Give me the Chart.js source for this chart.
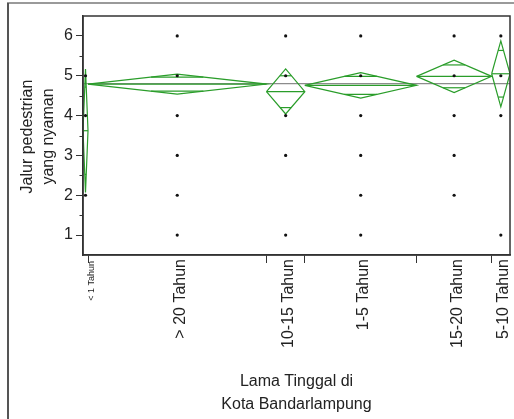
<!DOCTYPE html>
<html>
<head>
<meta charset="utf-8">
<script src="https://cdn.jsdelivr.net/npm/chart.js@4/dist/chart.umd.min.js"></script>
<style>
  html, body { margin: 0; padding: 0; background: #fff; }
  #wrap { width: 514px; height: 419px; position: relative; }
</style>
</head>
<body>
<div id="wrap"><canvas id="c" width="514" height="419"></canvas></div>
<script>
// ---- data ----
const categories = ['< 1 Tahun', '> 20 Tahun', '10-15 Tahun', '1-5 Tahun', '15-20 Tahun', '5-10 Tahun'];
const counts = [3, 107, 23, 67, 45, 11];
const means = [3.62, 4.79, 4.60, 4.76, 4.985, 5.05];
const ciLow = [2.07, 4.54, 4.04, 4.44, 4.58, 4.22];
const ciHigh = [5.17, 5.04, 5.17, 5.08, 5.39, 5.875];
const pointValues = [[2, 4, 5], [1, 2, 3, 4, 5, 6], [1, 3, 4, 5, 6], [1, 2, 3, 4, 5, 6], [2, 3, 4, 5, 6], [1, 4, 5, 6]];
const grandMean = 4.80;
const yTicks = [1, 2, 3, 4, 5, 6];
const yTitle = ['Jalur pedestrian', 'yang nyaman'];
const xTitle = ['Lama Tinggal di', 'Kota Bandarlampung'];

const FONT = '"Liberation Sans", Arial, sans-serif';
const GREEN = '#2a9d2a';
const total = counts.reduce((a, b) => a + b, 0);
const lefts = [], rights = [], centers = [];
let acc = 0;
counts.forEach(n => { lefts.push(acc); centers.push(acc + n / 2); acc += n; rights.push(acc); });
const boundaries = rights.slice(0, -1);

const datasets = [];
// points
const pts = [];
pointValues.forEach((vals, i) => vals.forEach(v => pts.push({ x: centers[i], y: v })));
datasets.push({ data: pts, showLine: false, pointRadius: 1.6, pointBackgroundColor: '#111', pointBorderWidth: 0, order: 0 });
// diamonds, mean lines, overlap marks
categories.forEach((c, i) => {
  const L = lefts[i], R = rights[i], C = centers[i], m = means[i];
  const common = { showLine: true, pointRadius: 0, borderColor: GREEN, borderWidth: 1.2, tension: 0, order: 1 };
  datasets.push(Object.assign({ data: [{ x: L, y: m }, { x: C, y: ciHigh[i] }, { x: R, y: m }, { x: C, y: ciLow[i] }, { x: L, y: m }] }, common));
  datasets.push(Object.assign({ data: [{ x: L, y: m }, { x: R, y: m }] }, common));
  const half = (ciHigh[i] - ciLow[i]) / 2;
  const d = half / Math.SQRT2;
  const hw = (1 - 1 / Math.SQRT2) * (R - L) / 2;
  datasets.push(Object.assign({ data: [{ x: C - hw, y: m + d }, { x: C + hw, y: m + d }] }, common));
  datasets.push(Object.assign({ data: [{ x: C - hw, y: m - d }, { x: C + hw, y: m - d }] }, common));
});
// grand mean
datasets.push({ data: [{ x: 0, y: grandMean }, { x: total, y: grandMean }], showLine: true, pointRadius: 0, borderColor: '#8c8c8c', borderWidth: 1.2, order: 2 });

const decor = {
  id: 'decor',
  beforeDraw(chart) {
    const ctx = chart.ctx;
    ctx.save();
    ctx.fillStyle = '#fff';
    ctx.fillRect(0, 0, chart.width, chart.height);
    ctx.strokeStyle = '#9a9a9a';
    ctx.lineWidth = 2;
    ctx.beginPath(); ctx.moveTo(7, 3); ctx.lineTo(514, 3); ctx.stroke();
    ctx.strokeStyle = '#555';
    ctx.beginPath(); ctx.moveTo(8, 3); ctx.lineTo(8, 419); ctx.stroke();
    ctx.restore();
  },
  afterDraw(chart) {
    const ctx = chart.ctx;
    const a = chart.chartArea;
    const xs = chart.scales.x, ys = chart.scales.y;
    ctx.save();
    // frame
    ctx.strokeStyle = '#333';
    ctx.lineWidth = 1.5;
    ctx.strokeRect(a.left, a.top, a.right - a.left, a.bottom - a.top);
    // minor y ticks
    ctx.lineWidth = 1;
    for (let v = 1.5; v < 6.5; v += 1) {
      const y = Math.round(ys.getPixelForValue(v)) + 0.5;
      ctx.beginPath(); ctx.moveTo(a.left - 3.5, y); ctx.lineTo(a.left, y); ctx.stroke();
    }
    // category labels
    ctx.fillStyle = '#222';
    ctx.textAlign = 'right';
    ctx.textBaseline = 'middle';
    categories.forEach((c, i) => {
      const small = counts[i] < 8;
      const x = xs.getPixelForValue(centers[i]) + (small ? 6 : 3);
      ctx.save();
      ctx.translate(x, a.bottom + (small ? 6 : 4));
      ctx.rotate(-Math.PI / 2);
      ctx.font = (small ? '9px ' : '16px ') + FONT;
      ctx.fillText(c, 0, 0);
      ctx.restore();
    });
    // titles
    ctx.font = '16px ' + FONT;
    ctx.textAlign = 'center';
    const cx = (a.left + a.right) / 2;
    ctx.fillText(xTitle[0], cx, 382);
    ctx.fillText(xTitle[1], cx, 405);
    const cy = (a.top + a.bottom) / 2 + 1;
    [28, 49].forEach((x, k) => {
      ctx.save();
      ctx.translate(x, cy);
      ctx.rotate(-Math.PI / 2);
      ctx.fillText(yTitle[k], 0, 0);
      ctx.restore();
    });
    ctx.restore();
  }
};

new Chart(document.getElementById('c'), {
  type: 'scatter',
  data: { datasets },
  options: {
    responsive: false,
    animation: false,
    layout: { padding: { top: 16, right: 4, left: 0, bottom: 0 } },
    plugins: { legend: { display: false }, tooltip: { enabled: false } },
    scales: {
      x: {
        type: 'linear', min: 0, max: total,
        afterBuildTicks: s => { s.ticks = boundaries.map(v => ({ value: v })); },
        afterFit: s => { s.height = 164; },
        ticks: { autoSkip: false, callback: () => '', maxRotation: 0 },
        grid: { drawOnChartArea: false, tickLength: 8, tickColor: '#333', tickWidth: 1 },
        border: { color: '#333', width: 1.5 }
      },
      y: {
        type: 'linear', min: 0.5, max: 6.5,
        afterBuildTicks: s => { s.ticks = yTicks.map(v => ({ value: v })); },
        afterFit: s => { s.width = 83; },
        ticks: { color: '#222', font: { family: FONT, size: 16 }, padding: 3 },
        grid: { drawOnChartArea: false, tickLength: 7, tickColor: '#333', tickWidth: 1 },
        border: { color: '#333', width: 1.5 }
      }
    }
  },
  plugins: [decor]
});
</script>
</body>
</html>
